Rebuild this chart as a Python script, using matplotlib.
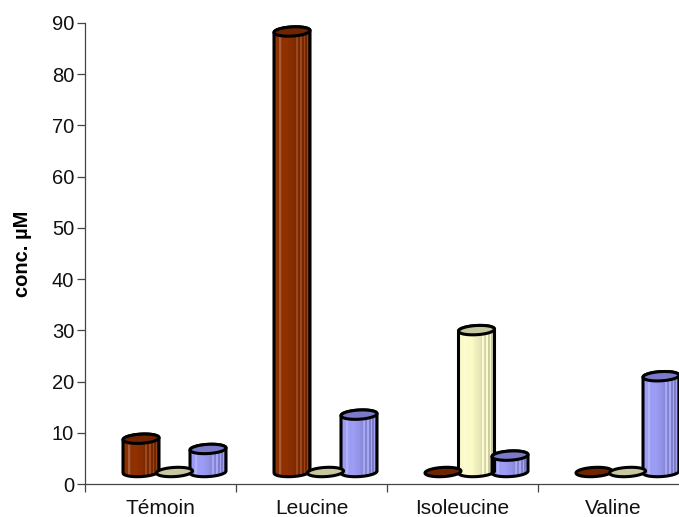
#!/usr/bin/env python
import numpy as np
from matplotlib import pyplot as plt
from matplotlib.patches import Polygon, PathPatch
from matplotlib.path import Path
from matplotlib.colors import to_rgb

plt.rcParams['font.family'] = ['Liberation Sans', 'DejaVu Sans']

categories = ['Témoin', 'Leucine', 'Isoleucine', 'Valine']
# values read above the floor of the 3d box
brown_vals = [6.5, 86.0, 0.0, 0.0]
cream_vals = [0.0, 0.0, 27.7, 0.0]
blue_vals = [4.5, 11.2, 3.2, 18.7]
y_ticks = [0, 10, 20, 30, 40, 50, 60, 70, 80, 90]

# px -> data
X_PX = 151.0
Y_PX = 461.0 / 90
floor = 12.0 / Y_PX
bar_w = 36.0 / X_PX
ell_b = 4.6 / Y_PX
ell_tilt = 1.0 / Y_PX
offsets = [-19.5 / X_PX, 14.0 / X_PX, 47.5 / X_PX]

# stripes across the body, left to right: >0 goes to white, <0 goes to black
shade = np.array([-0.05, 0.0, 0.0, 0.0, 0.0, 0.22, 0.22, 0.05, 0.0, 0.0, 0.0, 0.0, 0.0, 0.0, -0.02, -0.03,
                  -0.04, -0.05, -0.06, -0.08, -0.1, -0.12, 0.12, 0.12, -0.14, -0.16, 0.12, 0.12, -0.18, -0.18,
                  0.1, -0.2, -0.2, 0.08, -0.24, -0.26])


def stripe_colors(body):
    rgb = np.array(to_rgb(body))
    out = []
    for s in shade:
        if s > 0:
            out.append(rgb + (1 - rgb) * s)
        else:
            out.append(rgb * (1 + s))
    return np.array(out)


def ellipse_pts(x, y, t):
    # tilted disc, right side sits a little higher
    return np.column_stack([x + bar_w / 2 * np.cos(t),
                            y + ell_b * np.sin(t) + ell_tilt * np.cos(t)])


def cylinder(ax, x, val, body, top):
    y0 = floor
    y1 = floor + val
    if val > 0:
        lower = ellipse_pts(x, y0, np.linspace(np.pi, 2 * np.pi, 40))
        upper = ellipse_pts(x, y1, np.linspace(0, np.pi, 40))
        pts = np.vstack([lower, upper, lower[:1]])
        path = Path(pts)
        ax.add_patch(PathPatch(path, fc='none', ec='black', lw=2.2, zorder=3))
        rgb = stripe_colors(body)
        im = ax.imshow(rgb[np.newaxis, :, :], extent=(x - bar_w / 2, x + bar_w / 2, y0 - ell_b - ell_tilt, y1 + ell_b),
                       aspect='auto', interpolation='nearest', zorder=2)
        im.set_clip_path(PathPatch(path, transform=ax.transData))
    disc = ellipse_pts(x, y1, np.linspace(0, 2 * np.pi, 80))
    ax.add_patch(Polygon(disc, closed=True, fc=top, ec='black', lw=2.2, zorder=4))


fig = plt.figure(figsize=(6.79, 5.17), dpi=100)
ax = fig.add_axes([85 / 679, 33 / 517, 594 / 679, 461 / 517])

series = [(brown_vals, '#8f3000', '#702400'),
          (cream_vals, '#fbfbc8', '#c8c8a0'),
          (blue_vals, '#9c9cf5', '#7a7ac8')]
for j, (vals, body, top) in enumerate(series):
    for i, v in enumerate(vals):
        cylinder(ax, i + 0.5 + offsets[j], v, body, top)

ax.set_xlim(0, 594 / X_PX)
ax.set_ylim(0, 90)
ax.set_xticks([0, 1, 2, 3])
ax.set_xticklabels([])
ax.set_yticks(y_ticks)
for i, c in enumerate(categories):
    ax.text(i + 0.5, -25 / 461, c, transform=ax.get_xaxis_transform(), ha='center', va='center',
            fontsize=15, color='#111111', clip_on=False)
ax.tick_params(axis='y', labelsize=14.5, length=5.8, width=0.9, color='#444444', pad=2, labelcolor='#111111')
ax.tick_params(axis='x', length=5.5, width=0.9, color='#444444')
for s in ['top', 'right']:
    ax.spines[s].set_visible(False)
for s in ['left', 'bottom']:
    ax.spines[s].set_color('#444444')
    ax.spines[s].set_linewidth(0.9)
fig.text(22 / 679, 1 - 254 / 517, 'conc. µM', rotation=90, ha='center', va='center', fontsize=14.5, fontweight='bold')
fig.savefig('out.png', dpi=100)
